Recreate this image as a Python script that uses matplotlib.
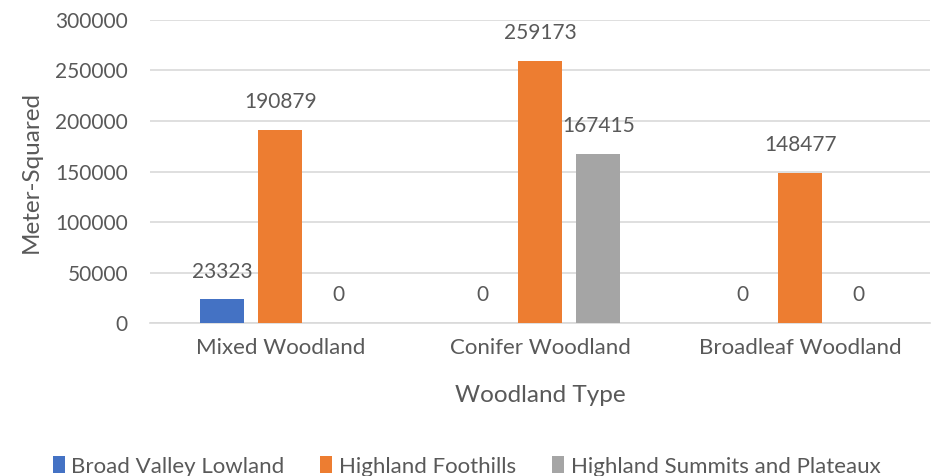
import numpy as np
import matplotlib
matplotlib.use("Agg")
import matplotlib.pyplot as plt

plt.rcParams['font.family'] = ['Lato', 'DejaVu Sans']

# Données : surface par type de boisement et par zone
types_boisement = ["Mixed Woodland", "Conifer Woodland", "Broadleaf Woodland"]
broad_valley = [23323, 0, 0]
highland_foothills = [190879, 259173, 148477]
highland_summits = [0, 167415, 0]
noms_series = ["Broad Valley Lowland", "Highland Foothills", "Highland Summits and Plateaux"]
couleurs = ["#4472C4", "#ED7D31", "#A5A5A5"]
graduations_y = [0, 50000, 100000, 150000, 200000, 250000, 300000]

gris_texte = "#595959"

fig = plt.figure(figsize=(9.33, 4.76), dpi=100)
ax = fig.add_axes([0.161, 0.3214, 0.836, 0.6366])

x = np.arange(len(types_boisement))
largeur = 0.17
decalage = 0.223

series = [broad_valley, highland_foothills, highland_summits]
for k, (valeurs, nom, couleur) in enumerate(zip(series, noms_series, couleurs)):
    pos = x + (k - 1) * decalage
    ax.bar(pos, valeurs, largeur, color=couleur, label=nom, zorder=3)
    # étiquettes de valeur au-dessus des barres
    for p, v in zip(pos, valeurs):
        ax.annotate(str(v), (p, v), xytext=(0, 20), textcoords="offset points",
                    ha="center", va="center", fontsize=15, color=gris_texte)

ax.set_xlim(-0.5, 2.5)
ax.set_ylim(0, 300000)
ax.set_yticks(graduations_y)
ax.set_yticklabels([str(g) for g in graduations_y])
ax.set_xticks(x)
ax.set_xticklabels(types_boisement, fontsize=16)
ax.tick_params(axis="y", length=0, labelsize=15, colors=gris_texte, pad=16)
ax.tick_params(axis="x", length=0, colors=gris_texte, pad=11)

ax.grid(axis="y", color="#d9d9d9", linewidth=1.2, zorder=0)
for s in ["top", "right", "left"]:
    ax.spines[s].set_visible(False)
ax.spines["bottom"].set_color("#d9d9d9")
ax.spines["bottom"].set_linewidth(1.2)

ax.set_xlabel("Woodland Type", fontsize=17.5, color=gris_texte, labelpad=19)
ax.set_ylabel("Meter-Squared", fontsize=17.5, color=gris_texte, labelpad=10)

fig.legend(loc="center", bbox_to_anchor=(0.5, 0.02), ncol=3, frameon=False,
           fontsize=16, labelcolor=gris_texte, handlelength=0.55, handleheight=0.8,
           handletextpad=0.3, columnspacing=1.6)

plt.savefig("out.png", dpi=100)
